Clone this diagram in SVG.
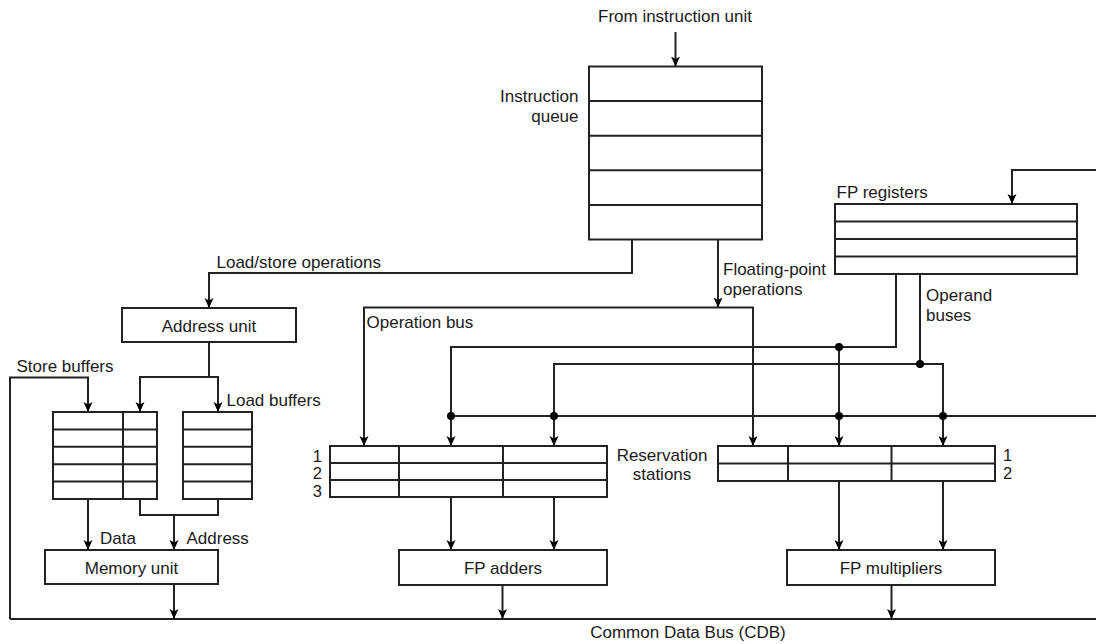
<svg xmlns="http://www.w3.org/2000/svg" width="1096" height="644" viewBox="0 0 1096 644">
<style>
.box{fill:#fff;stroke:#222;stroke-width:2}
.ln{fill:none;stroke:#222;stroke-width:2}
.w{fill:none;stroke:#222;stroke-width:2}
.a{fill:none;stroke:#222;stroke-width:2;marker-end:url(#arr)}
.dot{fill:#000}
text{font-family:"Liberation Sans",Arial,sans-serif;font-size:17px;fill:#1a1a1a}
.c{text-anchor:middle}
.e{text-anchor:end}
.n{font-size:16.5px}
</style>
<defs>
<marker id="arr" markerUnits="userSpaceOnUse" markerWidth="12" markerHeight="10" refX="10" refY="4.5" orient="auto" viewBox="0 0 12 10">
<path d="M0,0 L10,4.5 L0,9 L2.5,4.5 z" fill="#000"/>
</marker>
</defs>
<rect width="1096" height="644" fill="#fff"/>

<g id="connectors">
<path class="a" d="M675.5,32 V66.5"/>
<path class="a" d="M632,239.5 V273 H209 V308"/>
<path class="a" d="M718,239.5 V307.5"/>
<path class="a" d="M718,307.5 H364 V446"/>
<path class="a" d="M718,307.5 H753 V446"/>
<path class="a" d="M896,274 V347 H451 V446"/>
<path class="a" d="M839,347 V446"/>
<path class="a" d="M920,274 V364 H554 V446"/>
<path class="a" d="M920,364 H943 V446"/>
<path class="w" d="M1096,416 H451"/>
<path class="a" d="M1096,170 H1012 V204"/>
<path class="a" d="M209,342 V377 H140 V412"/>
<path class="a" d="M209,377 H218 V412"/>
<path class="a" d="M10,619 V377.5 H88 V412"/>
<path class="w" d="M10,619 H1096"/>
<path class="a" d="M88,499 V550"/>
<path class="w" d="M140,499 V515 H218 V499"/>
<path class="a" d="M174,515 V550"/>
<path class="a" d="M174,584 V619"/>
<path class="a" d="M451,497 V550"/>
<path class="a" d="M554,497 V550"/>
<path class="a" d="M502.5,585 V619"/>
<path class="a" d="M839,481 V550"/>
<path class="a" d="M943,481 V550"/>
<path class="a" d="M891.5,585 V619"/>
<circle class="dot" cx="451" cy="416" r="4"/>
<circle class="dot" cx="554" cy="416" r="4"/>
<circle class="dot" cx="839" cy="416" r="4"/>
<circle class="dot" cx="943" cy="416" r="4"/>
<circle class="dot" cx="839" cy="347" r="4"/>
<circle class="dot" cx="920" cy="364" r="4"/>
</g>

<g id="labels">
<text class="c" x="675" y="21.5">From instruction unit</text>
<text x="216.5" y="267.5">Load/store operations</text>
<text x="723" y="275">Floating-point</text>
<text x="723" y="294.5">operations</text>
<text x="366.5" y="328">Operation bus</text>
<text x="926" y="300.5">Operand</text>
<text x="926" y="320.5">buses</text>
<text x="16.5" y="371.5">Store buffers</text>
<text x="226.5" y="405.5">Load buffers</text>
<text x="100" y="544">Data</text>
<text x="186.5" y="544">Address</text>
<text class="c" x="688" y="638">Common Data Bus (CDB)</text>
</g>

<g id="instruction-queue">
<rect class="box" x="589" y="66.5" width="173" height="173"/>
<path class="ln" d="M589,101.1 H762 M589,135.7 H762 M589,170.3 H762 M589,204.9 H762"/>
<text class="e" x="578.5" y="101.7">Instruction</text>
<text class="e" x="578.5" y="121.7">queue</text>
</g>

<g id="fp-registers">
<rect class="box" x="835" y="204" width="242" height="70"/>
<path class="ln" d="M835,221.5 H1077 M835,239 H1077 M835,256.5 H1077"/>
<text x="836.5" y="198">FP registers</text>
</g>

<g id="address-unit">
<rect class="box" x="122" y="308" width="174" height="34"/>
<text class="c" x="209" y="332">Address unit</text>
</g>

<g id="store-buffers">
<rect class="box" x="53" y="412" width="104" height="87"/>
<path class="ln" d="M123,412 V499 M53,429.4 H157 M53,446.8 H157 M53,464.2 H157 M53,481.6 H157"/>
</g>

<g id="load-buffers">
<rect class="box" x="183" y="412" width="69" height="87"/>
<path class="ln" d="M183,429.4 H252 M183,446.8 H252 M183,464.2 H252 M183,481.6 H252"/>
</g>

<g id="memory-unit">
<rect class="box" x="45" y="550" width="173" height="34"/>
<text class="c" x="131.5" y="574">Memory unit</text>
</g>

<g id="rs-adders">
<rect class="box" x="330" y="446" width="277" height="51"/>
<path class="ln" d="M399,446 V497 M503,446 V497 M330,463 H607 M330,480 H607"/>
<text class="e n" x="322" y="461.5">1</text>
<text class="e n" x="322" y="478.5">2</text>
<text class="e n" x="322" y="496.5">3</text>
</g>

<g id="rs-label">
<text class="c" x="662" y="460.7">Reservation</text>
<text class="c" x="662" y="480">stations</text>
</g>

<g id="rs-multipliers">
<rect class="box" x="718" y="446" width="277" height="35"/>
<path class="ln" d="M788,446 V481 M891.5,446 V481 M718,463.5 H995"/>
<text class="n" x="1003" y="460.7">1</text>
<text class="n" x="1003" y="479">2</text>
</g>

<g id="fp-adders">
<rect class="box" x="399" y="550" width="208" height="35"/>
<text class="c" x="503" y="574">FP adders</text>
</g>

<g id="fp-multipliers">
<rect class="box" x="787" y="550" width="208" height="35"/>
<text class="c" x="891" y="574">FP multipliers</text>
</g>
</svg>
